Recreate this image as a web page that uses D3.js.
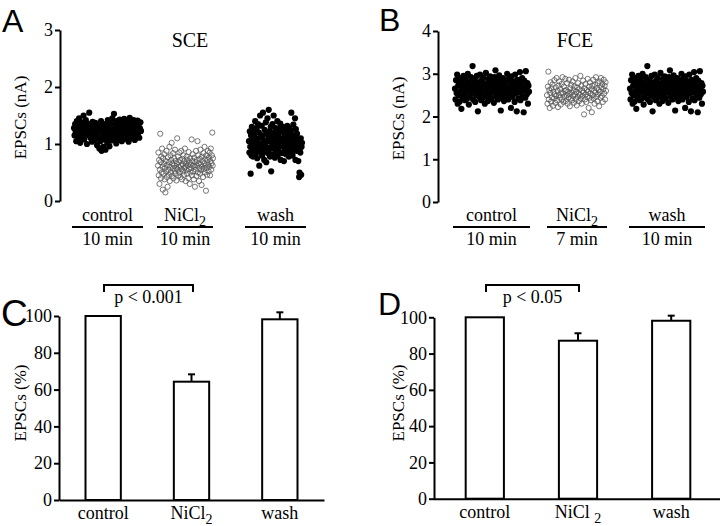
<!DOCTYPE html>
<html><head><meta charset="utf-8">
<script src="https://cdn.jsdelivr.net/npm/d3@7"></script>
<style>
body{margin:0;background:#fff}
svg{display:block}
text{font-family:"Liberation Serif","Times New Roman",serif;fill:#000}
.letter{font-family:"Liberation Sans",Arial,sans-serif}
</style></head><body>
<svg id="c" width="720" height="526"></svg>
<script>
// ---------- DATA ----------
const groups = ["control", "NiCl2", "wash"];
const durationsSCE = ["10 min", "10 min", "10 min"];
const durationsFCE = ["10 min", "7 min", "10 min"];
const ticksA = [0, 1, 2, 3];
const ticksB = [0, 1, 2, 3, 4];
const ticksPct = [0, 20, 40, 60, 80, 100];

const sceControl = [1.28,1.15,1.35,1.22,1.05,1.40,1.18,1.30,1.10,1.45,
1.25,1.02,1.32,1.20,1.38,1.12,1.27,1.50,1.08,1.33,
1.19,1.42,1.24,1.00,1.36,1.16,1.29,1.55,1.21,1.11,
1.34,1.26,1.04,1.39,1.14,1.30,1.23,1.07,1.37,1.18,
1.28,0.98,1.20,1.33,1.10,0.92,1.25,1.05,1.40,0.88,
1.15,1.30,0.95,1.22,1.08,1.35,0.90,1.18,1.27,1.02,
1.42,1.12,1.32,0.96,1.24,1.38,1.06,1.20,1.45,1.14,
1.28,1.53,1.10,1.35,1.22,1.01,1.40,1.17,1.30,1.08,
1.26,1.43,1.13,1.34,1.20,1.05,1.38,1.25,1.15,1.44,
1.09,1.31,1.22,1.40,1.12,1.28,1.36,1.04,1.24,1.46,
1.18,1.33,1.10,1.39,1.27,1.15,1.42,1.21,1.07,1.35,
1.25,1.30,1.14,1.41,1.19,1.36,1.11,1.28,1.38,1.23];

const sceNi = [0.62,0.85,0.45,0.72,0.30,0.55,1.18,0.68,0.40,0.78,
0.50,0.92,0.60,0.20,0.75,0.48,0.65,0.82,0.38,0.58,
0.15,0.70,0.52,0.88,0.42,0.63,0.25,0.77,0.55,0.46,
0.68,0.95,0.35,0.60,0.80,0.50,0.72,1.02,0.44,0.66,
0.57,0.84,0.40,0.62,0.75,0.53,0.90,0.48,0.70,0.58,
0.36,0.65,1.10,0.55,0.78,0.45,0.68,0.60,0.85,0.50,
0.72,0.42,0.62,0.88,0.56,0.38,0.74,0.64,0.52,0.80,
0.46,0.70,0.58,0.92,0.60,0.35,0.66,0.54,0.78,0.48,
0.72,0.62,0.40,0.86,0.56,0.68,0.30,0.75,0.50,0.64,
0.58,1.08,0.45,0.70,0.82,0.52,0.62,0.38,0.76,0.60,
0.25,0.68,0.55,0.88,0.44,0.72,0.62,1.05,0.50,0.80,
0.66,0.35,0.58,0.74,0.48,0.90,0.64,0.54,0.28,0.78,
0.60,0.70,0.42,0.84,0.56,0.66,0.95,0.50,0.74,0.62,
0.18,0.80,0.58,0.46,0.72,0.88,0.64,0.52,0.76,0.60,
0.85,0.45,0.70,0.92,0.55,0.66,0.80,1.20,0.62,0.75];

const sceWash = [1.05,0.85,1.22,0.95,0.48,1.15,0.80,1.30,0.92,1.08,
0.78,1.25,1.00,0.88,1.18,1.40,0.82,1.10,0.96,1.28,
0.75,1.05,1.35,0.90,1.20,0.62,1.00,1.50,0.86,1.12,
0.98,1.32,0.80,1.15,1.55,0.92,1.06,0.72,1.25,0.88,
1.02,1.38,0.68,1.18,0.94,1.45,0.84,1.10,1.60,0.90,
1.22,0.78,1.04,1.30,0.52,1.14,0.96,1.35,0.82,1.08,
1.50,0.92,1.20,0.76,1.02,1.28,0.88,1.12,0.98,1.40,
0.80,1.16,0.94,1.26,0.86,1.06,1.36,0.72,1.10,1.00,
1.22,0.84,1.30,0.96,1.08,0.70,1.18,0.90,1.25,1.04,
0.82,1.14,0.95,1.32,0.88,1.06,1.20,0.78,1.28,0.98,
1.10,0.86,1.24,1.55,0.92,1.16,0.80,1.02,1.34,0.90,
1.12,0.96,1.45,0.72,1.26,1.04,0.88,1.18,0.94,1.08,
0.70,1.00,0.42,0.50,0.92,0.85,1.10,0.46,0.95,1.02];

const fceControl = [2.65,2.40,2.85,2.55,2.98,2.30,2.72,2.50,2.90,2.35,
2.78,2.60,2.18,2.82,2.45,2.70,2.95,2.52,2.68,2.38,
2.88,2.58,2.75,2.42,3.00,2.62,2.28,2.80,2.48,2.70,
2.92,2.55,2.65,3.18,2.40,2.76,2.58,2.86,2.34,2.68,
2.50,2.95,2.62,2.12,2.80,2.46,2.72,2.98,2.56,2.38,
2.84,2.64,2.44,2.90,2.52,2.74,2.30,2.66,3.02,2.48,
2.78,2.58,2.36,2.88,2.68,2.50,2.94,2.62,2.42,2.76,
2.56,2.82,2.70,2.32,2.92,2.60,3.08,2.46,2.74,2.54,
2.86,2.40,2.66,2.96,2.52,2.72,2.14,2.80,2.58,2.44,
2.90,2.64,2.36,2.78,2.56,2.84,2.48,2.70,3.00,2.60,
2.40,2.88,2.66,2.52,2.76,2.20,2.94,2.62,2.46,2.82,
2.58,2.72,2.34,2.98,2.54,2.68,2.12,2.86,2.64,2.42,
2.80,2.56,3.04,2.38,2.74,2.60,2.90,2.48,2.70,2.10,
2.84,2.62,2.44,3.06,2.66,2.52,2.78,2.30,2.72,2.58];

const fceNi = [2.50,2.30,2.70,3.05,2.40,2.62,2.20,2.55,2.80,2.35,
2.66,2.45,2.75,2.25,2.58,2.42,2.85,2.52,2.32,2.68,
2.48,2.90,2.38,2.60,2.22,2.72,2.50,2.82,2.44,2.64,
2.28,2.56,2.76,2.40,2.92,2.54,2.34,2.70,2.46,2.60,
2.88,2.36,2.62,2.50,2.78,2.30,2.58,2.44,2.86,2.52,
2.24,2.66,2.42,2.74,2.56,2.38,2.82,2.48,2.62,2.32,
2.70,2.52,2.90,2.40,2.58,2.26,2.68,2.46,2.78,2.54,
2.36,2.64,2.50,2.95,2.42,2.72,2.30,2.60,2.48,2.84,
2.56,2.05,2.66,2.40,2.76,2.52,2.34,2.62,2.46,2.88,
2.58,2.20,2.70,2.44,2.80,2.54,2.38,2.64,2.10,2.72,
2.50,2.86,2.42,2.60,2.30,2.74,2.56,2.92,2.46,2.66,
2.36,2.78,2.52,2.62,2.24,2.82,2.58,2.44,2.90,2.68,
2.48,2.76,2.34,2.64,2.86,2.54,2.72,2.40,2.80,2.60];

const fceWash = fceControl.slice();

const pctSCE = [100, 64.3, 98.2];
const semSCE = [0, 4.0, 3.8];
const pctFCE = [100, 87.1, 98.1];
const semFCE = [0, 4.1, 2.8];

// ---------- DRAW ----------
const svg = d3.select("#c");
const FS = 18;

function yAxis(g, scale, major, minor, x){
  const ax = g.append("g").attr("transform",`translate(${x},0)`);
  ax.call(d3.axisLeft(scale).tickValues(minor).tickSize(3).tickFormat("").tickSizeOuter(0));
  ax.call(d3.axisLeft(scale).tickValues(major).tickSize(5).tickPadding(2).tickSizeOuter(0).tickFormat(d3.format("d")));
  ax.selectAll("path,line").attr("stroke","#000").attr("stroke-width",2);
  ax.selectAll("text").style("font-size",FS+"px").style("font-family",'"Liberation Serif",serif');
  return ax;
}
function niLabel(sel, x, y, space){
  const t = sel.append("text").attr("x",x).attr("y",y).attr("text-anchor","middle").style("font-size",FS+"px");
  t.append("tspan").text(space ? "NiCl " : "NiCl");
  t.append("tspan").attr("dy",5).style("font-size","14px").text("2");
  return t;
}
function groupLabel(sel, name, x, y, space){
  if(name === "NiCl2") return niLabel(sel, x, y, space);
  return sel.append("text").attr("x",x).attr("y",y).attr("text-anchor","middle").style("font-size",FS+"px").text(name);
}

function scatterPanel(cfg){
  const g = svg.append("g");
  const y = d3.scaleLinear().domain(cfg.ydom).range(cfg.yrange);
  const minor = d3.range(cfg.ydom[0]+0.5, cfg.ydom[1], 1);
  yAxis(g, y, cfg.ticks, minor, cfg.axisX);
  cfg.series.forEach((s,i)=>{
    const x = d3.scaleLinear().domain([0, s.length-1]).range(cfg.xr[i]);
    const open = i === 1;
    g.append("g").selectAll("circle").data(s).join("circle")
      .attr("cx",(d,j)=>x(j)).attr("cy",d=>y(d))
      .attr("r", open ? 2.6 : 3.1)
      .attr("fill", open ? "none" : "#000")
      .attr("stroke", open ? "#555" : "none")
      .attr("stroke-width", 0.8);
    const lr = cfg.lines[i];
    groupLabel(g, groups[i], (lr[0]+lr[1])/2, 221, false);
    g.append("line").attr("x1",lr[0]).attr("x2",lr[1]).attr("y1",227).attr("y2",227).attr("stroke","#000").attr("stroke-width",2);
    g.append("text").attr("x",(lr[0]+lr[1])/2).attr("y",245).attr("text-anchor","middle").style("font-size",FS+"px").text(cfg.dur[i]);
  });
  g.append("text").attr("x",cfg.titleX).attr("y",47).attr("text-anchor","middle").style("font-size","20px").text(cfg.title);
  g.append("text").attr("transform",`translate(${cfg.labX},${(cfg.yrange[0]+cfg.yrange[1])/2+2}) rotate(-90)`)
    .attr("text-anchor","middle").attr("dy","0.35em").style("font-size","17px").text("EPSCs (nA)");
  g.append("text").attr("class","letter").attr("x",cfg.letterX).attr("y",cfg.letterY).style("font-size","32px").text(cfg.letter);
}

scatterPanel({letter:"A", letterX:2, letterY:32, title:"SCE", titleX:190, ydom:[0,3], yrange:[201,30], ticks:ticksA, axisX:60,
  series:[sceControl, sceNi, sceWash], xr:[[74,141],[158,213],[249,302]], lines:[[72,143],[157,213],[245,306]], dur:durationsSCE, labX:20});
scatterPanel({letter:"B", letterX:379, letterY:30.5, title:"FCE", titleX:575, ydom:[0,4], yrange:[202,31], ticks:ticksB, axisX:438,
  series:[fceControl, fceNi, fceWash], xr:[[455,529],[547,606],[630,703]], lines:[[453,530],[547,607],[629,705]], dur:durationsFCE, labX:398});

function barPanel(cfg){
  const g = svg.append("g");
  const y = d3.scaleLinear().domain([0,100]).range(cfg.yrange);
  const x = d3.scaleBand().domain(groups).range(cfg.xrange).paddingInner(cfg.pi).paddingOuter(cfg.po);
  yAxis(g, y, ticksPct, d3.range(10,100,20), cfg.xrange[0]);
  const xa = g.append("g").attr("transform",`translate(0,${cfg.yrange[0]})`)
    .call(d3.axisBottom(x).tickSize(0).tickSizeOuter(0).tickFormat(""));
  xa.select("path").attr("stroke","#000").attr("stroke-width",2);
  if(cfg.axisEnd) xa.select("path").attr("d",`M${cfg.xrange[0]},0.5H${cfg.axisEnd}`);
  groups.forEach((k,i)=>{
    const v = cfg.vals[i], e = cfg.sem[i];
    const cx = x(k) + x.bandwidth()/2;
    if(e>0){
      g.append("line").attr("x1",cx).attr("x2",cx).attr("y1",y(v)).attr("y2",y(v+e)).attr("stroke","#000").attr("stroke-width",2);
      g.append("line").attr("x1",cx-3.5).attr("x2",cx+3.5).attr("y1",y(v+e)).attr("y2",y(v+e)).attr("stroke","#000").attr("stroke-width",2);
    }
    g.append("rect").attr("x",x(k)).attr("y",y(v)).attr("width",x.bandwidth()).attr("height",y(0)-y(v))
      .attr("fill","#fff").attr("stroke","#000").attr("stroke-width",2);
    groupLabel(g, k, cx, cfg.yrange[0]+19, cfg.space);
  });
  const b = cfg.bracket;
  g.append("path").attr("d",`M${b[0]},292V285H${b[1]}V292`).attr("fill","none").attr("stroke","#000").attr("stroke-width",2);
  g.append("text").attr("x",(b[0]+b[1])/2).attr("y",303).attr("text-anchor","middle").style("font-size",FS+"px").text(cfg.ptext);
  g.append("text").attr("transform",`translate(${cfg.labX},403) rotate(-90)`)
    .attr("text-anchor","middle").attr("dy","0.35em").style("font-size","17px").text("EPSCs (%)");
  g.append("text").attr("class","letter").attr("x",cfg.letterX).attr("y",cfg.letterY).style("font-size",cfg.letterSize+"px").text(cfg.letter);
}

barPanel({letter:"C", letterX:1, letterY:326, letterSize:37, yrange:[500,316], xrange:[59,324], pi:0.6, po:0.3,
  vals:pctSCE, sem:semSCE, bracket:[104,193], ptext:"p < 0.001", labX:20, space:false});
barPanel({letter:"D", letterX:378, letterY:315, letterSize:32, yrange:[498.7,317.3], xrange:[434,722], pi:0.59, po:0.34, axisEnd:720,
  vals:pctFCE, sem:semFCE, bracket:[486,579], ptext:"p < 0.05", labX:398, space:true});
</script>
</body></html>
